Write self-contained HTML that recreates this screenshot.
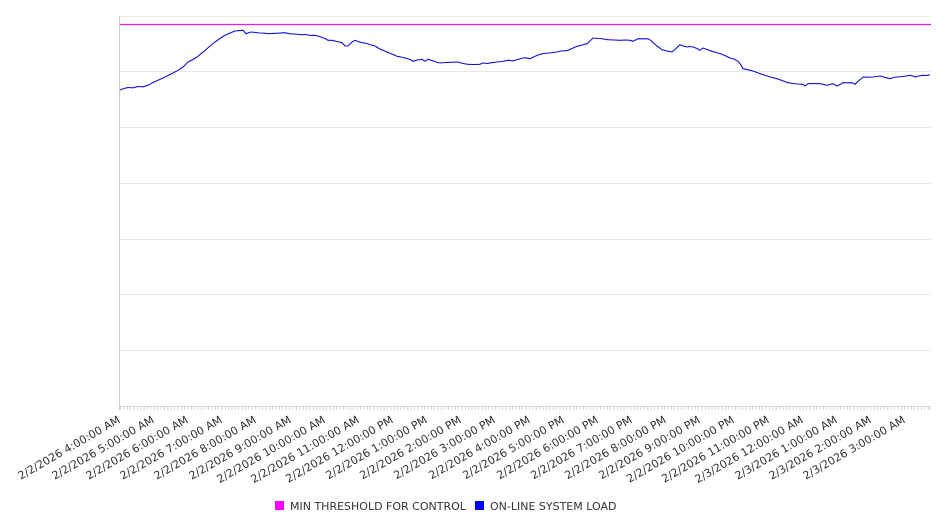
<!DOCTYPE html>
<html><head><meta charset="utf-8"><style>
html,body{margin:0;padding:0;background:#fff;}
svg{display:block;font-family:"DejaVu Sans","Liberation Sans",sans-serif;}
</style></head><body>
<svg width="946" height="526" viewBox="0 0 946 526" xmlns="http://www.w3.org/2000/svg">
<g stroke="#e8e8e8" stroke-width="1">
<line x1="120" y1="16.5" x2="931" y2="16.5"/>
<line x1="120" y1="71.5" x2="931" y2="71.5"/>
<line x1="120" y1="127.5" x2="931" y2="127.5"/>
<line x1="120" y1="183.5" x2="931" y2="183.5"/>
<line x1="120" y1="239.5" x2="931" y2="239.5"/>
<line x1="120" y1="294.5" x2="931" y2="294.5"/>
<line x1="120" y1="350.5" x2="931" y2="350.5"/>
</g>
<line x1="119.5" y1="16" x2="119.5" y2="410" stroke="#cccccc" stroke-width="1"/>
<line x1="119" y1="406.5" x2="931" y2="406.5" stroke="#dddddd" stroke-width="1"/>
<line x1="120" y1="24.5" x2="931" y2="24.5" stroke="#e020e0" stroke-width="1.2"/>
<polyline fill="none" stroke="#1010d0" stroke-width="1.1" stroke-linejoin="round" points="
120,90 124,88.5 128,87.5 133,87.8 138,86.5 143,86.8 148,85.3 153,82.5 158,80.3 163,78 168,75.5 173,73 178,70.3 183,67 188,62 193,59.5 197,57 201,53.7 205,50.5 210,46 215,42 220,38.5 225,35.3 230,33 235,31 239,30.6 243,30.3 246,33.7 251,32 256,32.5 260,33 264,33.2 268,33.7 273,33.4 278,33.2 285,32.7 290,33.8 295,34 301,34.7 306,34.5 310,35.5 315,35.3 318,36 321,37 325,38.5 328,40.3 332,40.3 337,41.5 342,42.7 345,46 348,46 352,42 355,40.3 358,41.5 362,42.7 367,43.5 371,45 375,46 379,48.5 383,50.3 388,52.5 393,54.5 397,56.3 401,57 405,58 409,59 413,61.3 417,60 422,59.3 425,61.3 428,59.3 432,60.5 436,62 440,63 445,62.5 450,62.3 458,62 463,63.5 468,64.3 474,64.5 480,64.3 483,63 487,63.5 492,62.7 497,62 502,61.5 508,60.3 513,60.8 518,59.5 521,58.5 525,57.7 530,58.7 535,56.3 540,54.3 544,53.5 549,53 553,52.5 557,52 561,51 565,50.8 568,50.3 572,48.5 577,46.3 582,45 587,43.7 590,41 593,38 598,38.5 602,38.7 606,39.5 608,39.7 614,40 620,40.3 625,40 630,40.3 633,41.3 636,39.8 638,38.7 643,38.8 648,38.7 651,40.5 653,42.7 657,46 662,49.7 667,51 672,52 676,48.5 680,44.7 683,46 687,47 690,46.5 693,47 697,48.5 700,50.3 703,48 707,49.5 712,51.3 716,52.5 720,53.5 723,54.7 727,56.5 730,58 734,59 738,61.3 741,65 743,68.7 748,69.8 753,71 757,72.5 760,73.7 764,75 767,76 772,77.5 777,78.7 782,80.5 788,82.7 793,83.5 798,84 803,84.3 805,86 808,83.7 814,83.5 820,83.7 824,84.5 827,85.3 830,84.5 833,83.7 837,86 840,84.5 843,82.7 848,82.8 852,82.7 855,84.3 858,81.3 861,79 863,77 868,77.2 873,77 877,76.5 880,76 885,77.3 890,78.7 894,77.5 897,77 903,76.5 910,75.3 913,76 915,77 919,76 923,75.3 927,75.5 930,74.7"/>
<g font-size="11" fill="#333333" text-anchor="end">
<text transform="translate(121,422) rotate(-30)">2/2/2026 4:00:00 AM</text>
<text transform="translate(155,422) rotate(-30)">2/2/2026 5:00:00 AM</text>
<text transform="translate(189,422) rotate(-30)">2/2/2026 6:00:00 AM</text>
<text transform="translate(223,422) rotate(-30)">2/2/2026 7:00:00 AM</text>
<text transform="translate(257,422) rotate(-30)">2/2/2026 8:00:00 AM</text>
<text transform="translate(292,422) rotate(-30)">2/2/2026 9:00:00 AM</text>
<text transform="translate(326,422) rotate(-30)">2/2/2026 10:00:00 AM</text>
<text transform="translate(360,422) rotate(-30)">2/2/2026 11:00:00 AM</text>
<text transform="translate(394,422) rotate(-30)">2/2/2026 12:00:00 PM</text>
<text transform="translate(428,422) rotate(-30)">2/2/2026 1:00:00 PM</text>
<text transform="translate(462,422) rotate(-30)">2/2/2026 2:00:00 PM</text>
<text transform="translate(496,422) rotate(-30)">2/2/2026 3:00:00 PM</text>
<text transform="translate(531,422) rotate(-30)">2/2/2026 4:00:00 PM</text>
<text transform="translate(565,422) rotate(-30)">2/2/2026 5:00:00 PM</text>
<text transform="translate(599,422) rotate(-30)">2/2/2026 6:00:00 PM</text>
<text transform="translate(633,422) rotate(-30)">2/2/2026 7:00:00 PM</text>
<text transform="translate(667,422) rotate(-30)">2/2/2026 8:00:00 PM</text>
<text transform="translate(701,422) rotate(-30)">2/2/2026 9:00:00 PM</text>
<text transform="translate(735,422) rotate(-30)">2/2/2026 10:00:00 PM</text>
<text transform="translate(770,422) rotate(-30)">2/2/2026 11:00:00 PM</text>
<text transform="translate(804,422) rotate(-30)">2/3/2026 12:00:00 AM</text>
<text transform="translate(838,422) rotate(-30)">2/3/2026 1:00:00 AM</text>
<text transform="translate(872,422) rotate(-30)">2/3/2026 2:00:00 AM</text>
<text transform="translate(906,422) rotate(-30)">2/3/2026 3:00:00 AM</text>
</g>
<rect x="275" y="501" width="9" height="9" fill="#ff00ff"/>
<text x="290" y="510" font-size="11" fill="#333333">MIN THRESHOLD FOR CONTROL</text>
<rect x="475" y="501" width="9" height="9" fill="#0000ff"/>
<text x="490" y="510" font-size="11" fill="#333333">ON-LINE SYSTEM LOAD</text>
<g stroke="#c4c4c4" stroke-width="0.7">
<path d="M120.5 406v4M123.9 406v4M127.3 406v4M130.6 406v4M134 406v4M137.4 406v4M140.8 406v4M144.2 406v4M147.5 406v4M150.9 406v4M154.3 406v4M157.7 406v4M161.1 406v4M164.4 406v4M167.8 406v4M171.2 406v4M174.6 406v4M178 406v4M181.3 406v4M184.7 406v4M188.1 406v4M191.5 406v4M194.9 406v4M198.2 406v4M201.6 406v4M205 406v4M208.4 406v4M211.8 406v4M215.1 406v4M218.5 406v4M221.9 406v4M225.3 406v4M228.7 406v4M232 406v4M235.4 406v4M238.8 406v4M242.2 406v4M245.6 406v4M248.9 406v4M252.3 406v4M255.7 406v4M259.1 406v4M262.5 406v4M265.8 406v4M269.2 406v4M272.6 406v4M276 406v4M279.4 406v4M282.7 406v4M286.1 406v4M289.5 406v4M292.9 406v4M296.3 406v4M299.6 406v4M303 406v4M306.4 406v4M309.8 406v4M313.2 406v4M316.5 406v4M319.9 406v4M323.3 406v4M326.7 406v4M330.1 406v4M333.4 406v4M336.8 406v4M340.2 406v4M343.6 406v4M347 406v4M350.3 406v4M353.7 406v4M357.1 406v4M360.5 406v4M363.9 406v4M367.2 406v4M370.6 406v4M374 406v4M377.4 406v4M380.8 406v4M384.1 406v4M387.5 406v4M390.9 406v4M394.3 406v4M397.7 406v4M401 406v4M404.4 406v4M407.8 406v4M411.2 406v4M414.6 406v4M417.9 406v4M421.3 406v4M424.7 406v4M428.1 406v4M431.5 406v4M434.8 406v4M438.2 406v4M441.6 406v4M445 406v4M448.4 406v4M451.7 406v4M455.1 406v4M458.5 406v4M461.9 406v4M465.3 406v4M468.6 406v4M472 406v4M475.4 406v4M478.8 406v4M482.2 406v4M485.5 406v4M488.9 406v4M492.3 406v4M495.7 406v4M499.1 406v4M502.4 406v4M505.8 406v4M509.2 406v4M512.6 406v4M516 406v4M519.3 406v4M522.7 406v4M526.1 406v4M529.5 406v4M532.9 406v4M536.2 406v4M539.6 406v4M543 406v4M546.4 406v4M549.8 406v4M553.1 406v4M556.5 406v4M559.9 406v4M563.3 406v4M566.7 406v4M570 406v4M573.4 406v4M576.8 406v4M580.2 406v4M583.6 406v4M586.9 406v4M590.3 406v4M593.7 406v4M597.1 406v4M600.5 406v4M603.8 406v4M607.2 406v4M610.6 406v4M614 406v4M617.4 406v4M620.7 406v4M624.1 406v4M627.5 406v4M630.9 406v4M634.3 406v4M637.6 406v4M641 406v4M644.4 406v4M647.8 406v4M651.2 406v4M654.5 406v4M657.9 406v4M661.3 406v4M664.7 406v4M668.1 406v4M671.4 406v4M674.8 406v4M678.2 406v4M681.6 406v4M685 406v4M688.3 406v4M691.7 406v4M695.1 406v4M698.5 406v4M701.9 406v4M705.2 406v4M708.6 406v4M712 406v4M715.4 406v4M718.8 406v4M722.1 406v4M725.5 406v4M728.9 406v4M732.3 406v4M735.7 406v4M739 406v4M742.4 406v4M745.8 406v4M749.2 406v4M752.6 406v4M755.9 406v4M759.3 406v4M762.7 406v4M766.1 406v4M769.5 406v4M772.8 406v4M776.2 406v4M779.6 406v4M783 406v4M786.4 406v4M789.7 406v4M793.1 406v4M796.5 406v4M799.9 406v4M803.3 406v4M806.6 406v4M810 406v4M813.4 406v4M816.8 406v4M820.2 406v4M823.5 406v4M826.9 406v4M830.3 406v4M833.7 406v4M837.1 406v4M840.4 406v4M843.8 406v4M847.2 406v4M850.6 406v4M854 406v4M857.3 406v4M860.7 406v4M864.1 406v4M867.5 406v4M870.9 406v4M874.2 406v4M877.6 406v4M881 406v4M884.4 406v4M887.8 406v4M891.1 406v4M894.5 406v4M897.9 406v4M901.3 406v4M904.7 406v4M908 406v4M911.4 406v4M914.8 406v4M918.2 406v4M921.6 406v4M924.9 406v4M928.3 406v4M930.5 406v4"/>
</g>
</svg>
</body></html>
